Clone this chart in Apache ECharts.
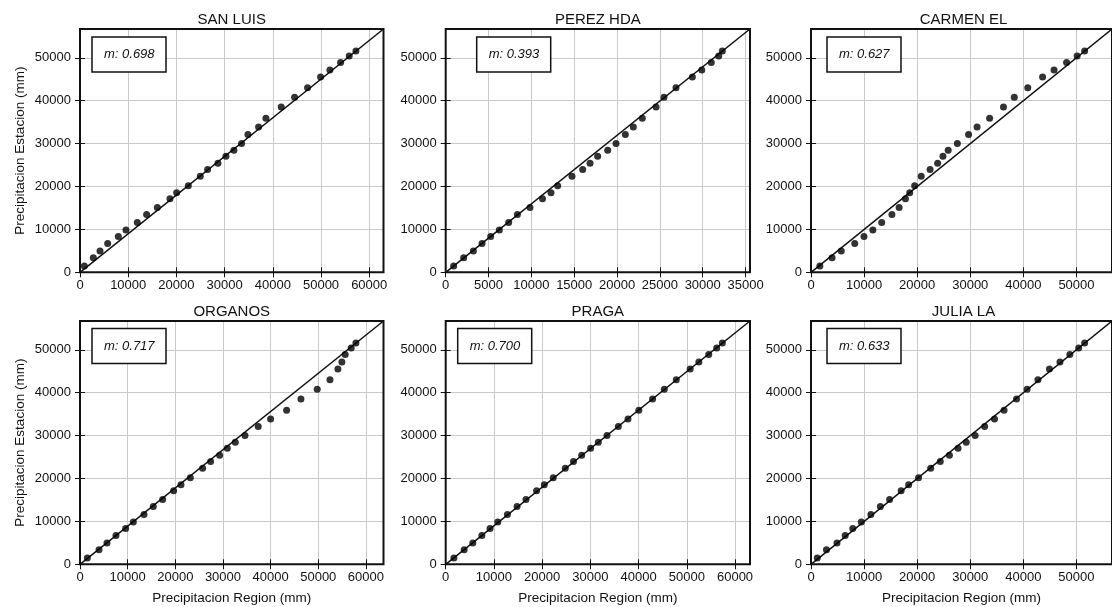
<!DOCTYPE html>
<html>
<head>
<meta charset="utf-8">
<script src="https://cdn.jsdelivr.net/npm/echarts@6/dist/echarts.min.js"></script>
<style>
  html, body { margin: 0; padding: 0; background: #ffffff; }
  #chart { width: 1112px; height: 607px; }
</style>
</head>
<body>
<div id="chart"></div>
<script>
// Cumulative precipitation: station (y) against regional reference (x), six stations.
const stationNames = ['SAN LUIS', 'PEREZ HDA', 'CARMEN EL', 'ORGANOS', 'PRAGA', 'JULIA LA'];
const slopeLabels = ['0.698', '0.393', '0.627', '0.717', '0.700', '0.633'];

// Precipitacion Estacion (mm), cumulative
const yEstacion = [1470, 3410, 4960, 6740, 8370, 9840, 11630, 13490, 15120, 17130, 18530, 20160,
  22400, 23950, 25430, 27050, 28450, 30000, 32090, 33880, 35890, 38530, 40780, 43020, 45500,
  47130, 48910, 50390, 51550];

// Precipitacion Region (mm), cumulative, one list per station
const xSanLuis = [900, 2760, 4150, 5740, 7950, 9540, 11890, 13820, 16040, 18660, 20050, 22470,
  24950, 26470, 28620, 30280, 31930, 33520, 34840, 37050, 38570, 41750, 44520, 47210, 49910,
  51840, 54060, 55850, 57240];
const xPerezHda = [930, 2100, 3230, 4240, 5250, 6260, 7350, 8370, 9840, 11300, 12290, 13070,
  14740, 15990, 16850, 17740, 18910, 19880, 20970, 21900, 22950, 24550, 25480, 26880, 28790,
  29890, 31000, 31870, 32290];
const xCarmenEl = [1670, 3970, 5700, 8240, 9980, 11650, 13320, 15240, 16600, 17790, 18590, 19520,
  20760, 22430, 23850, 24850, 25840, 27570, 29680, 31280, 33640, 36250, 38290, 40830, 43620,
  45780, 48140, 50130, 51540];
const xOrganos = [1540, 3990, 5660, 7550, 9580, 11190, 13430, 15380, 17340, 19650, 21190, 23150,
  25730, 27410, 29300, 30910, 32590, 34620, 37400, 40000, 43360, 46360, 49780, 52450, 54120,
  54960, 55650, 56910, 57900];
const xPraga = [1700, 3830, 5620, 7500, 9200, 10800, 12800, 14800, 16650, 18850, 20450, 22300,
  24800, 26500, 28200, 30050, 31650, 33450, 35800, 37800, 40050, 42900, 45330, 47820, 50700,
  52500, 54550, 56200, 57370];
const xJuliaLa = [1180, 2910, 4890, 6440, 7870, 9480, 11280, 13070, 14810, 16980, 18400, 20260,
  22550, 24350, 26080, 27700, 29240, 30920, 32710, 34570, 36370, 38720, 40710, 42750, 44920,
  46900, 48760, 50430, 51550];

// Tick spacing of each panel's horizontal axis; vertical axes step by 10000
const xTickSteps = [10000, 5000, 10000, 10000, 10000, 10000];
const yTickStep = 10000;

const xSeries = [xSanLuis, xPerezHda, xCarmenEl, xOrganos, xPraga, xJuliaLa];

// Panel geometry (px)
const colLeft = [80, 445.7, 811];
const colWidth = [303.5, 304.3, 305];
const rowTop = [29, 321];
const rowHeight = 243.3;
const slopeBoxOffset = [12, 31, 16, 12, 12, 16];

const FONT = "'Liberation Sans', Arial, Helvetica, sans-serif";
const INK = '#111111';
const GRID_GRAY = '#c9c9c9';

const grids = [], xAxes = [], yAxes = [], series = [], titles = [];
const yMax = Math.max(...yEstacion) * 1.1;
const plain = v => String(v);

stationNames.forEach((name, i) => {
  const col = i % 3, row = Math.floor(i / 3);
  const xs = xSeries[i];
  const xMax = Math.max(...xs) * 1.1;
  const step = xTickSteps[i];

  grids.push({
    left: colLeft[col], top: rowTop[row], width: colWidth[col], height: rowHeight,
    show: true, borderColor: INK, borderWidth: 2, backgroundColor: 'transparent', z: 1
  });

  const tickStyle = { show: true, inside: false, length: 5, lineStyle: { color: INK, width: 1 } };

  // bottom axis with labels and grid lines
  xAxes.push({
    type: 'value', gridIndex: i, position: 'bottom', min: 0, max: xMax, interval: step,
    axisLine: { show: false },
    axisTick: tickStyle,
    axisLabel: { showMaxLabel: false, formatter: plain, fontSize: 13, color: INK, fontFamily: FONT, margin: 7 },
    splitLine: { show: true, lineStyle: { color: GRID_GRAY, width: 1 } },
    name: row === 1 ? 'Precipitacion Region (mm)' : '',
    nameLocation: 'middle', nameGap: 27,
    nameTextStyle: { fontSize: 13.5, color: INK, fontFamily: FONT }
  });
  // top mirror axis: ticks only
  xAxes.push({
    type: 'value', gridIndex: i, position: 'top', min: 0, max: xMax, interval: step,
    axisLine: { show: false },
    axisTick: tickStyle,
    axisLabel: { show: false }, splitLine: { show: false }
  });
  // left axis with labels
  yAxes.push({
    type: 'value', gridIndex: i, position: 'left', min: 0, max: yMax, interval: yTickStep,
    axisLine: { show: false },
    axisTick: tickStyle,
    axisLabel: { showMaxLabel: false, formatter: plain, fontSize: 13, color: INK, fontFamily: FONT, margin: 9 },
    splitLine: { show: true, lineStyle: { color: GRID_GRAY, width: 1 } },
    name: col === 0 ? 'Precipitacion Estacion (mm)' : '',
    nameLocation: 'middle', nameGap: 53,
    nameTextStyle: { fontSize: 13.5, color: INK, fontFamily: FONT }
  });
  // right mirror axis: ticks only
  yAxes.push({
    type: 'value', gridIndex: i, position: 'right', min: 0, max: yMax, interval: yTickStep,
    axisLine: { show: false },
    axisTick: tickStyle,
    axisLabel: { show: false }, splitLine: { show: false }
  });

  // reference line from the origin to the upper-right corner
  series.push({
    type: 'line', xAxisIndex: 2 * i, yAxisIndex: 2 * i,
    data: [[0, 0], [xMax, yMax]],
    showSymbol: false, silent: true,
    lineStyle: { color: INK, width: 1.5 }, z: 3
  });
  series.push({
    type: 'scatter', xAxisIndex: 2 * i, yAxisIndex: 2 * i,
    data: xs.map((x, k) => [x, yEstacion[k]]),
    symbol: 'circle', symbolSize: 7,
    itemStyle: { color: '#000000' }, z: 4
  });

  // station name above the panel
  titles.push({
    text: name, left: colLeft[col] + colWidth[col] / 2, top: row === 0 ? 12 : 304.5,
    textAlign: 'center', padding: 0,
    textStyle: { fontSize: 15, fontWeight: 'normal', color: INK, fontFamily: FONT }
  });
  // slope box
  titles.push({
    text: 'm: ' + slopeLabels[i], left: colLeft[col] + slopeBoxOffset[i], top: row === 0 ? 37 : 328.5,
    textAlign: 'left', padding: [11, 12],
    borderColor: INK, borderWidth: 1.5, backgroundColor: '#ffffff',
    textStyle: { fontSize: 13, fontStyle: 'italic', fontWeight: 'normal', color: INK, fontFamily: FONT }
  });
});

const chart = echarts.init(document.getElementById('chart'), null, { renderer: 'canvas' });
chart.setOption({
  animation: false,
  backgroundColor: '#ffffff',
  title: titles,
  grid: grids,
  xAxis: xAxes,
  yAxis: yAxes,
  series: series
});
</script>
</body>
</html>
